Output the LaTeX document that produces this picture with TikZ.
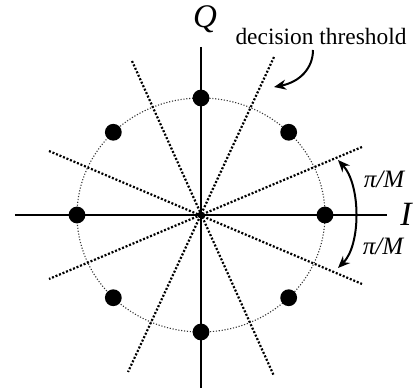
\documentclass[tikz,border=0pt]{standalone}
\usepackage{fontspec}
\setmainfont{Liberation Serif}
\usetikzlibrary{arrows.meta}
\begin{document}
\begin{tikzpicture}[x=0.5pt,y=-0.5pt,
  axis/.style={line width=0.9pt},
  thresh/.style={line width=1.1pt,dash pattern=on 1pt off 0.9pt},
  ring/.style={line width=0.55pt,dash pattern=on 0.55pt off 0.9pt,black!80},
  sym/.style={circle,fill=black,inner sep=0pt,minimum size=8.4pt},
  arr/.style={line width=1pt,-{Stealth[length=6pt,width=5pt]}},
  darr/.style={line width=1pt,{Stealth[length=6pt,width=5pt]}-{Stealth[length=6pt,width=5pt]}},
  lbl/.style={inner sep=0pt}]
\useasboundingbox (0,0) rectangle (414,390);
% centre
\coordinate (c) at (201,215);
% axes
\coordinate (xl) at (15,215);
\coordinate (xr) at (387,215);
\coordinate (yt) at (201,47);
\coordinate (yb) at (201,388);
% thresholds
\coordinate (t1a) at (274,57);  \coordinate (t1b) at (128,372);
\coordinate (t2a) at (132,61);  \coordinate (t2b) at (274,376);
\coordinate (t3a) at (362,147); \coordinate (t3b) at (49,279);
\coordinate (t4a) at (49,151);  \coordinate (t4b) at (362,284);
\draw[ring] (c) ellipse [x radius=62pt, y radius=58.5pt];
\draw[thresh] (t1a) -- (t1b);
\draw[thresh] (t2a) -- (t2b);
\draw[thresh] (t3a) -- (t3b);
\draw[thresh] (t4a) -- (t4b);
\draw[axis] (xl) -- (xr);
\draw[axis] (yt) -- (yb);
\node[circle,fill=black,inner sep=0pt,minimum size=3.5pt] (o) at (c) {};
% symbols
\foreach \a/\n in {0/s0,45/s1,90/s2,135/s3,180/s4,225/s5,270/s6,315/s7}
  \node[sym] (\n) at ({201+124*cos(\a)},{215-117*sin(\a)}) {};
% labels
\node[lbl,font=\fontsize{16.5}{18}\selectfont\itshape] (Q) at (205,19) {Q};
\node[lbl,font=\fontsize{17}{18}\selectfont\itshape] (I) at (406,214) {I};
\node[lbl,anchor=base,font=\fontsize{11.7}{13}\selectfont] (dt) at (321,45) {decision threshold};
\node[lbl,anchor=base,font=\fontsize{12.5}{14}\selectfont\itshape] (p1) at (384,188) {π/M};
\node[lbl,anchor=base,font=\fontsize{12.5}{14}\selectfont\itshape] (p2) at (383,255) {π/M};
% arrows
\coordinate (da) at (313,50);
\coordinate (db) at (274,87);
\draw[arr] (da) .. controls (313,68) and (300,82) .. (db);
\coordinate (ea) at (338,160);
\coordinate (eb) at (338,268);
\draw[darr] (ea) .. controls (361,185) and (361,245) .. (eb);
\end{tikzpicture}
\end{document}
